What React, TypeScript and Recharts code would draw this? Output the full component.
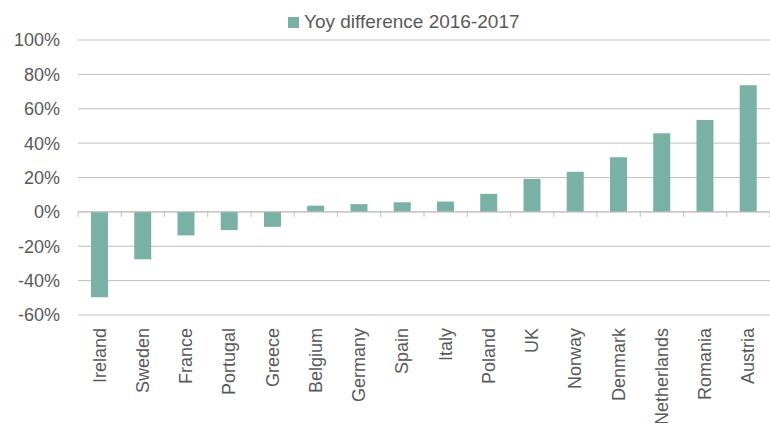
import { BarChart, Bar, XAxis, YAxis, CartesianGrid, Legend, ReferenceLine } from "recharts";

const countries = [
  "Ireland", "Sweden", "France", "Portugal", "Greece", "Belgium", "Germany", "Spain",
  "Italy", "Poland", "UK", "Norway", "Denmark", "Netherlands", "Romania", "Austria",
];
const yoyDiff = [
  -49.7, -27.6, -13.7, -10.6, -8.7, 3.6, 4.5, 5.6, 6.0, 10.5, 19.2, 23.3, 31.8, 45.7, 53.5, 73.7,
];
const yTicks = [-60, -40, -20, 0, 20, 40, 60, 80, 100];
const seriesName = "Yoy difference 2016-2017";

const data = countries.map((c, i) => ({ country: c, value: yoyDiff[i] }));

const FONT = "'Liberation Sans', Arial, sans-serif";
const TEXT = "#595959";
const GRID = "#BFBFBF";
const BAR = "#79B1A7";

const CountryTick = ({ x, y, payload }: any) => (
  <text
    x={x + 6}
    y={y + 13}
    transform={`rotate(-90, ${x + 6}, ${y + 13})`}
    textAnchor="end"
    fontSize={18}
    fontFamily={FONT}
    fill={TEXT}
  >
    {payload.value}
  </text>
);

// zero line with small tick marks at category boundaries
const ZeroLine = ({ x1, y1, x2 }: any) => {
  const step = (x2 - x1) / countries.length;
  const marks = [];
  for (let i = 0; i <= countries.length; i++) {
    const px = x1 + i * step;
    marks.push(<line key={i} x1={px} x2={px} y1={y1} y2={y1 + 5} stroke={GRID} strokeWidth={1} />);
  }
  return (
    <g>
      <line x1={x1} x2={x2} y1={y1} y2={y1} stroke={GRID} strokeWidth={1} />
      {marks}
    </g>
  );
};

const LegendContent = () => (
  <div
    style={{
      height: 36,
      display: "flex",
      alignItems: "center",
      paddingLeft: 288,
      fontFamily: FONT,
      fontSize: 19,
      color: TEXT,
      boxSizing: "border-box",
    }}
  >
    <span style={{ width: 11, height: 11, background: BAR, display: "inline-block", marginRight: 5 }} />
    <span>{seriesName}</span>
  </div>
);

export default function App() {
  return (
    <div style={{ position: "absolute", left: 0, top: 0, width: 770, height: 423, background: "#fff" }}>
      <BarChart
        width={770}
        height={423}
        data={data}
        margin={{ top: 4, right: 0, left: 0, bottom: 0 }}
        barCategoryGap="30%"
      >
        <CartesianGrid vertical={false} stroke={GRID} strokeWidth={1} />
        <XAxis
          dataKey="country"
          interval={0}
          height={108}
          axisLine={false}
          tickLine={false}
          tickSize={0}
          tickMargin={0}
          tick={<CountryTick />}
        />
        <YAxis
          width={78}
          domain={[-60, 100]}
          ticks={yTicks}
          tickFormatter={(v: number) => `${v}%`}
          axisLine={false}
          tickLine={false}
          tickMargin={12}
          tick={{ fontSize: 18, fontFamily: FONT, fill: TEXT }}
        />
        <Legend verticalAlign="top" align="left" content={<LegendContent />} />
        <Bar dataKey="value" name={seriesName} fill={BAR} isAnimationActive={false} />
        <ReferenceLine y={0} shape={<ZeroLine />} />
      </BarChart>
    </div>
  );
}
